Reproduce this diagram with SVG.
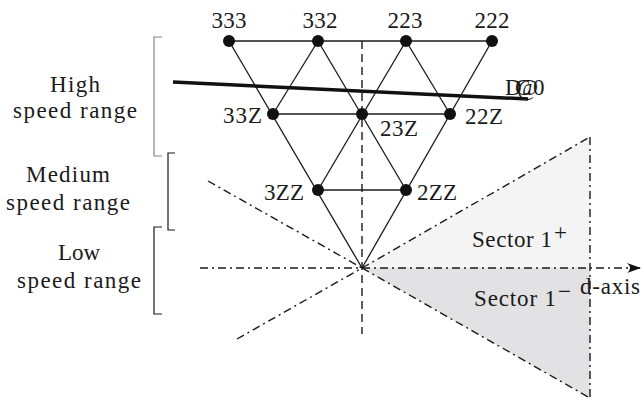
<svg xmlns="http://www.w3.org/2000/svg" width="641" height="398" viewBox="0 0 641 398">
<defs>
<style>
text{font-family:"Liberation Serif","Times New Roman",serif;font-size:23px;fill:#1a1a1a}
.edge{stroke:#1a1a1a;stroke-width:1.3;fill:none}
.dash{stroke:#1a1a1a;stroke-width:1.4;stroke-dasharray:8 5;fill:none}
.dd{stroke:#1a1a1a;stroke-width:1.4;stroke-dasharray:8 4 2 4;fill:none}
.br{stroke:#1a1a1a;stroke-width:1.2;fill:none}
.dot{fill:#111}
</style>
<marker id="arr" viewBox="0 0 14 10" refX="13" refY="5" markerWidth="14" markerHeight="10" markerUnits="userSpaceOnUse" orient="auto">
<path d="M0,0 Q6,5 0,10 L14,5 Z" fill="#111"/>
</marker>
</defs>
<rect width="641" height="398" fill="#fff"/>
<g id="sectors">
<polygon points="362,268 590,137 590,268" fill="#f4f4f4"/>
<polygon points="362,268 590,268 590,398" fill="#e2e2e4"/>
</g>
<g id="connectors">
<line class="edge" x1="229" y1="41" x2="492" y2="41"/>
<line class="edge" x1="273" y1="114" x2="450" y2="114"/>
<line class="edge" x1="318" y1="190" x2="406" y2="190"/>
<line class="edge" x1="229" y1="41" x2="362" y2="268"/>
<line class="edge" x1="492" y1="41" x2="362" y2="268"/>
<line class="edge" x1="318" y1="41" x2="273" y2="114"/>
<line class="edge" x1="318" y1="41" x2="406" y2="190"/>
<line class="edge" x1="406" y1="41" x2="450" y2="114"/>
<line class="edge" x1="406" y1="41" x2="318" y2="190"/>
<line class="dash" x1="362" y1="41" x2="362" y2="334"/>
<line class="dd" x1="208" y1="181" x2="362" y2="268"/>
<line class="dd" x1="237" y1="339" x2="362" y2="268"/>
<line class="dd" x1="362" y1="268" x2="590" y2="137"/>
<line class="dd" x1="362" y1="268" x2="590" y2="398"/>
<line class="dd" x1="590" y1="137" x2="590" y2="398"/>
<line class="dd" x1="200" y1="268" x2="640" y2="268" marker-end="url(#arr)"/>
<line x1="173" y1="82" x2="528" y2="99" stroke="#111" stroke-width="3.5"/>
</g>
<g id="n333"><circle class="dot" cx="229" cy="41" r="6"/><text x="229" y="28" text-anchor="middle" textLength="35">333</text></g>
<g id="n332"><circle class="dot" cx="318" cy="41" r="6"/><text x="320" y="28" text-anchor="middle" textLength="35">332</text></g>
<g id="n223"><circle class="dot" cx="406" cy="41" r="6"/><text x="405" y="28" text-anchor="middle" textLength="35">223</text></g>
<g id="n222"><circle class="dot" cx="492" cy="41" r="6"/><text x="492" y="28" text-anchor="middle" textLength="35">222</text></g>
<g id="n33Z"><circle class="dot" cx="273" cy="114" r="6"/><text x="223" y="123" textLength="39">33Z</text></g>
<g id="n23Z"><circle class="dot" cx="362" cy="114" r="6"/><text x="380" y="136" textLength="38">23Z</text></g>
<g id="n22Z"><circle class="dot" cx="450" cy="114" r="6"/><text x="465" y="124" textLength="38">22Z</text></g>
<g id="n3ZZ"><circle class="dot" cx="318" cy="190" r="6"/><text x="264" y="200" textLength="40">3ZZ</text></g>
<g id="n2ZZ"><circle class="dot" cx="406" cy="190" r="6"/><text x="417" y="200" textLength="40">2ZZ</text></g>
<g id="dclabel"><text x="505 515 517 533" y="95">DC@0</text></g>
<g id="ranges">
<path d="M162,37 H154 V156 H162" stroke="#888" stroke-width="1.2" fill="none"/>
<path class="br" d="M175,153 H168 V230 H175"/>
<path class="br" d="M162,227 H154 V314 H162"/>
<text x="75" y="92" text-anchor="middle" textLength="50">High</text>
<text x="75" y="118" text-anchor="middle" textLength="124">speed range</text>
<text x="68" y="182" text-anchor="middle" textLength="84">Medium</text>
<text x="68" y="210" text-anchor="middle" textLength="124">speed range</text>
<text x="79" y="260" text-anchor="middle" textLength="42">Low</text>
<text x="79" y="288" text-anchor="middle" textLength="124">speed range</text>
</g>
<g id="labels">
<text x="472" y="247" textLength="80">Sector 1</text><text x="554" y="240" font-size="15">+</text>
<text x="474" y="306" textLength="82">Sector 1</text><text x="558" y="299" font-size="15">−</text>
<text x="580" y="294" textLength="60">d-axis</text>
</g>
</svg>
